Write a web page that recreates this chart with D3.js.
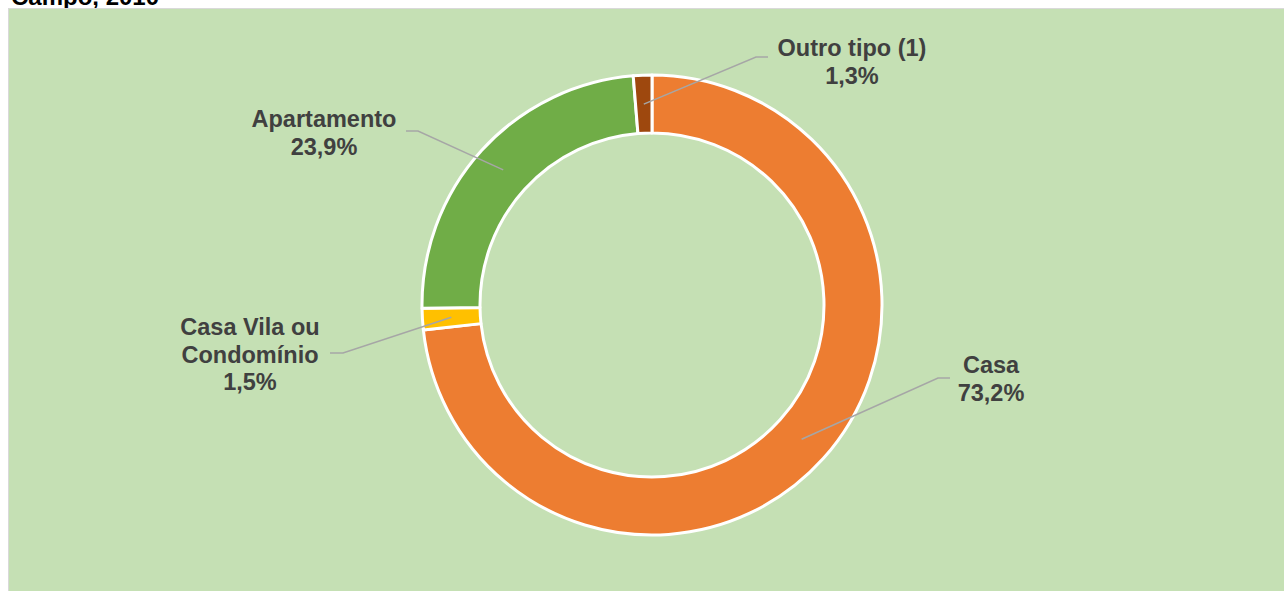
<!DOCTYPE html>
<html lang="pt">
  <head>
    <meta charset="utf-8">
    <title>Tipo de domicílio</title>
    <script src="https://d3js.org/d3.v7.min.js"></script>
    <style>
      body { margin: 0; background: #fff; }
      svg { display: block; font-family: "Liberation Sans", Arial, sans-serif; }
    </style>
  </head>
  <body>
    <script type="text/javascript">
    let w = 1284;
    let h = 591;

    // data, clockwise from 12 o'clock
    let categories = ["Casa", "Casa Vila ou Condomínio", "Apartamento", "Outro tipo (1)"];
    let values = [73.2, 1.5, 23.9, 1.3];
    let valueLabels = ["73,2%", "1,5%", "23,9%", "1,3%"];
    let colors = ["#ED7D31", "#FFC000", "#70AD47", "#9E480E"];

    // label layout: text lines, text centre, first baseline, leader elbow
    let labelLayout = [
      { lines: ["Casa"], x: 991, y: 373, elbow: [938, 378], end: [950, 378] },
      { lines: ["Casa Vila ou", "Condomínio"], x: 250, y: 335, elbow: [343, 353], end: [330, 353] },
      { lines: ["Apartamento"], x: 324, y: 127, elbow: [418, 131], end: [406, 131] },
      { lines: ["Outro tipo (1)"], x: 852, y: 56, elbow: [756, 57], end: [768, 57] }
    ];

    let cx = 652, cy = 305;
    let rOuter = 230, rInner = 172;

    let svg = d3.select("body")
                .append("svg")
                .attr("width", w)
                .attr("height", h);

    // title, mostly cut off by the frame top (as in the source)
    svg.append("text")
       .attr("x", 11)
       .attr("y", 5)
       .attr("font-size", 24)
       .attr("font-weight", "bold")
       .attr("fill", "#000")
       .text("Campo, 2010");

    // chart area
    svg.append("rect")
       .attr("x", 8.5)
       .attr("y", 8.5)
       .attr("width", w)
       .attr("height", h)
       .attr("fill", "#C5E0B4")
       .attr("stroke", "#D9D9D9")
       .attr("stroke-width", 1);

    let pie = d3.pie().sort(null).value(d => d);
    let arcs = pie(values);

    let arc = d3.arc().innerRadius(rInner).outerRadius(rOuter);
    let mid = d3.arc().innerRadius((rInner + rOuter) / 2).outerRadius((rInner + rOuter) / 2);

    let g = svg.append("g").attr("transform", `translate(${cx},${cy})`);

    g.selectAll("path.slice")
     .data(arcs)
     .enter()
     .append("path")
     .attr("class", "slice")
     .attr("d", arc)
     .attr("fill", (d, i) => colors[i])
     .attr("stroke", "#fff")
     .attr("stroke-width", 3)
     .attr("stroke-linejoin", "round");

    // leader lines
    svg.selectAll("polyline.leader")
       .data(arcs)
       .enter()
       .append("polyline")
       .attr("class", "leader")
       .attr("points", (d, i) => {
         let c = mid.centroid(d);
         let L = labelLayout[i];
         return [[cx + c[0], cy + c[1]], L.elbow, L.end].map(p => p.join(",")).join(" ");
       })
       .attr("fill", "none")
       .attr("stroke", "#A6A6A6")
       .attr("stroke-width", 1.5);

    // labels
    let fs = 23.5, lh = 27.5;
    arcs.forEach((d, i) => {
      let L = labelLayout[i];
      let lines = L.lines.concat([valueLabels[i]]);
      let t = svg.append("text")
                 .attr("text-anchor", "middle")
                 .attr("font-size", fs)
                 .attr("font-weight", "bold")
                 .attr("fill", "#404040");
      lines.forEach((s, k) => {
        t.append("tspan")
         .attr("x", L.x)
         .attr("y", L.y + k * lh)
         .text(s);
      });
    });
    </script>
  </body>
</html>
